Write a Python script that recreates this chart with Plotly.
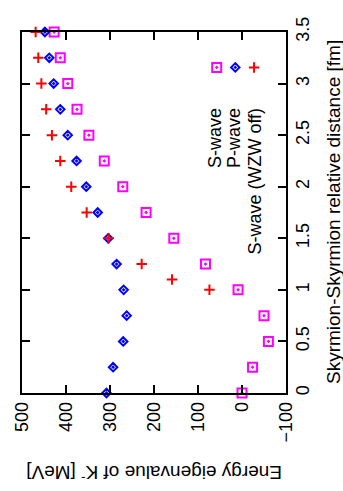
import plotly.graph_objects as go

# Data
distance = [0, 0.25, 0.5, 0.75, 1, 1.25, 1.5, 1.75, 2, 2.25, 2.5, 2.75, 3, 3.25, 3.5]
s_wave = [0, -24, -60, -50, 9, 83, 155, 218, 271, 313, 348, 375, 396, 413, 427]
p_wave = [308, 293, 270, 262, 269, 285, 304, 328, 354, 376, 396, 413, 428, 438, 448]
distance_wzw = [1, 1.1, 1.25, 1.5, 1.75, 2, 2.25, 2.5, 2.75, 3, 3.25, 3.5]
s_wave_wzw_off = [74, 159, 228, 303, 353, 388, 413, 432, 445, 456, 463, 469]

energy_ticks = [500, 400, 300, 200, 100, 0, -100]
distance_ticks = [0, 0.5, 1, 1.5, 2, 2.5, 3, 3.5]
distance_tick_labels = ["0", "0.5", "1", "1.5", "2", "2.5", "3", "3.5"]

series_names = ["S-wave", "P-wave", "S-wave (WZW off)"]

# key layout (paper fractions)
key_marker_x = [0.7375, 0.808, 0.879]
key_marker_y = [0.902, 0.902, 0.902]
key_text_x = [0.731, 0.803, 0.879]
key_text_top = 0.795

FONT = "Liberation Sans, Arial, sans-serif"

styles = [
    dict(symbol="square-open-dot", size=9, color="#ff00ff", line=dict(width=2, color="#ff00ff")),
    dict(symbol="diamond-open-dot", size=6.5, color="#0000ff", line=dict(width=2, color="#0000ff")),
    dict(symbol="cross-thin-open", size=7.5, color="#ff0000", line=dict(width=2, color="#ff0000")),
]

fig = go.Figure()
fig.add_trace(go.Scatter(x=s_wave, y=distance, mode="markers", marker=styles[0],
                         name=series_names[0], cliponaxis=False))
fig.add_trace(go.Scatter(x=p_wave, y=distance, mode="markers", marker=styles[1],
                         name=series_names[1], cliponaxis=False))
fig.add_trace(go.Scatter(x=s_wave_wzw_off, y=distance_wzw, mode="markers", marker=styles[2],
                         name=series_names[2], cliponaxis=False))

# key samples on an overlay axis pair in [0,1]
for i in range(3):
    fig.add_trace(go.Scatter(x=[key_marker_x[i]], y=[key_marker_y[i]], mode="markers",
                             marker=styles[i], xaxis="x2", yaxis="y2",
                             showlegend=False, hoverinfo="skip", cliponaxis=False))

annotations = []
for i in range(3):
    annotations.append(dict(text=series_names[i], x=key_text_x[i], y=key_text_top,
                            xref="paper", yref="paper", xanchor="center", yanchor="top",
                            textangle=-90, showarrow=False,
                            font=dict(family=FONT, size=18, color="black")))
annotations.append(dict(text="Energy eigenvalue of K<sup>-</sup> [MeV]", x=0.5, y=-0.226,
                        xref="paper", yref="paper", xanchor="center", yanchor="middle",
                        textangle=180, showarrow=False,
                        font=dict(family=FONT, size=19, color="black")))
annotations.append(dict(text="Skyrmion-Skyrmion relative distance [fm]", x=1.18, y=0.5,
                        xref="paper", yref="paper", xanchor="center", yanchor="middle",
                        textangle=-90, showarrow=False,
                        font=dict(family=FONT, size=19, color="black")))

axis_common = dict(showline=True, linecolor="black", linewidth=1.5, mirror="ticks",
                   ticks="inside", ticklen=8, tickwidth=1.5, tickcolor="black",
                   showgrid=False, zeroline=False, automargin=False,
                   tickfont=dict(family=FONT, size=18, color="black"))

fig.update_layout(
    width=343, height=491,
    margin=dict(l=22, r=57, t=32, b=98),
    paper_bgcolor="white", plot_bgcolor="white",
    showlegend=False,
    font=dict(family=FONT, size=18, color="black"),
    xaxis=dict(range=[500, -100], tickvals=energy_ticks, tickangle=-90, **axis_common),
    yaxis=dict(range=[0, 3.5], tickvals=distance_ticks, ticktext=distance_tick_labels,
               side="right", tickangle=-90, **axis_common),
    xaxis2=dict(overlaying="x", range=[0, 1], visible=False),
    yaxis2=dict(overlaying="y", range=[0, 1], visible=False),
    annotations=annotations,
)

fig.write_html("out.html", config={"displayModeBar": False},
               post_script="document.body.style.margin='0';document.body.style.overflow='hidden';")
